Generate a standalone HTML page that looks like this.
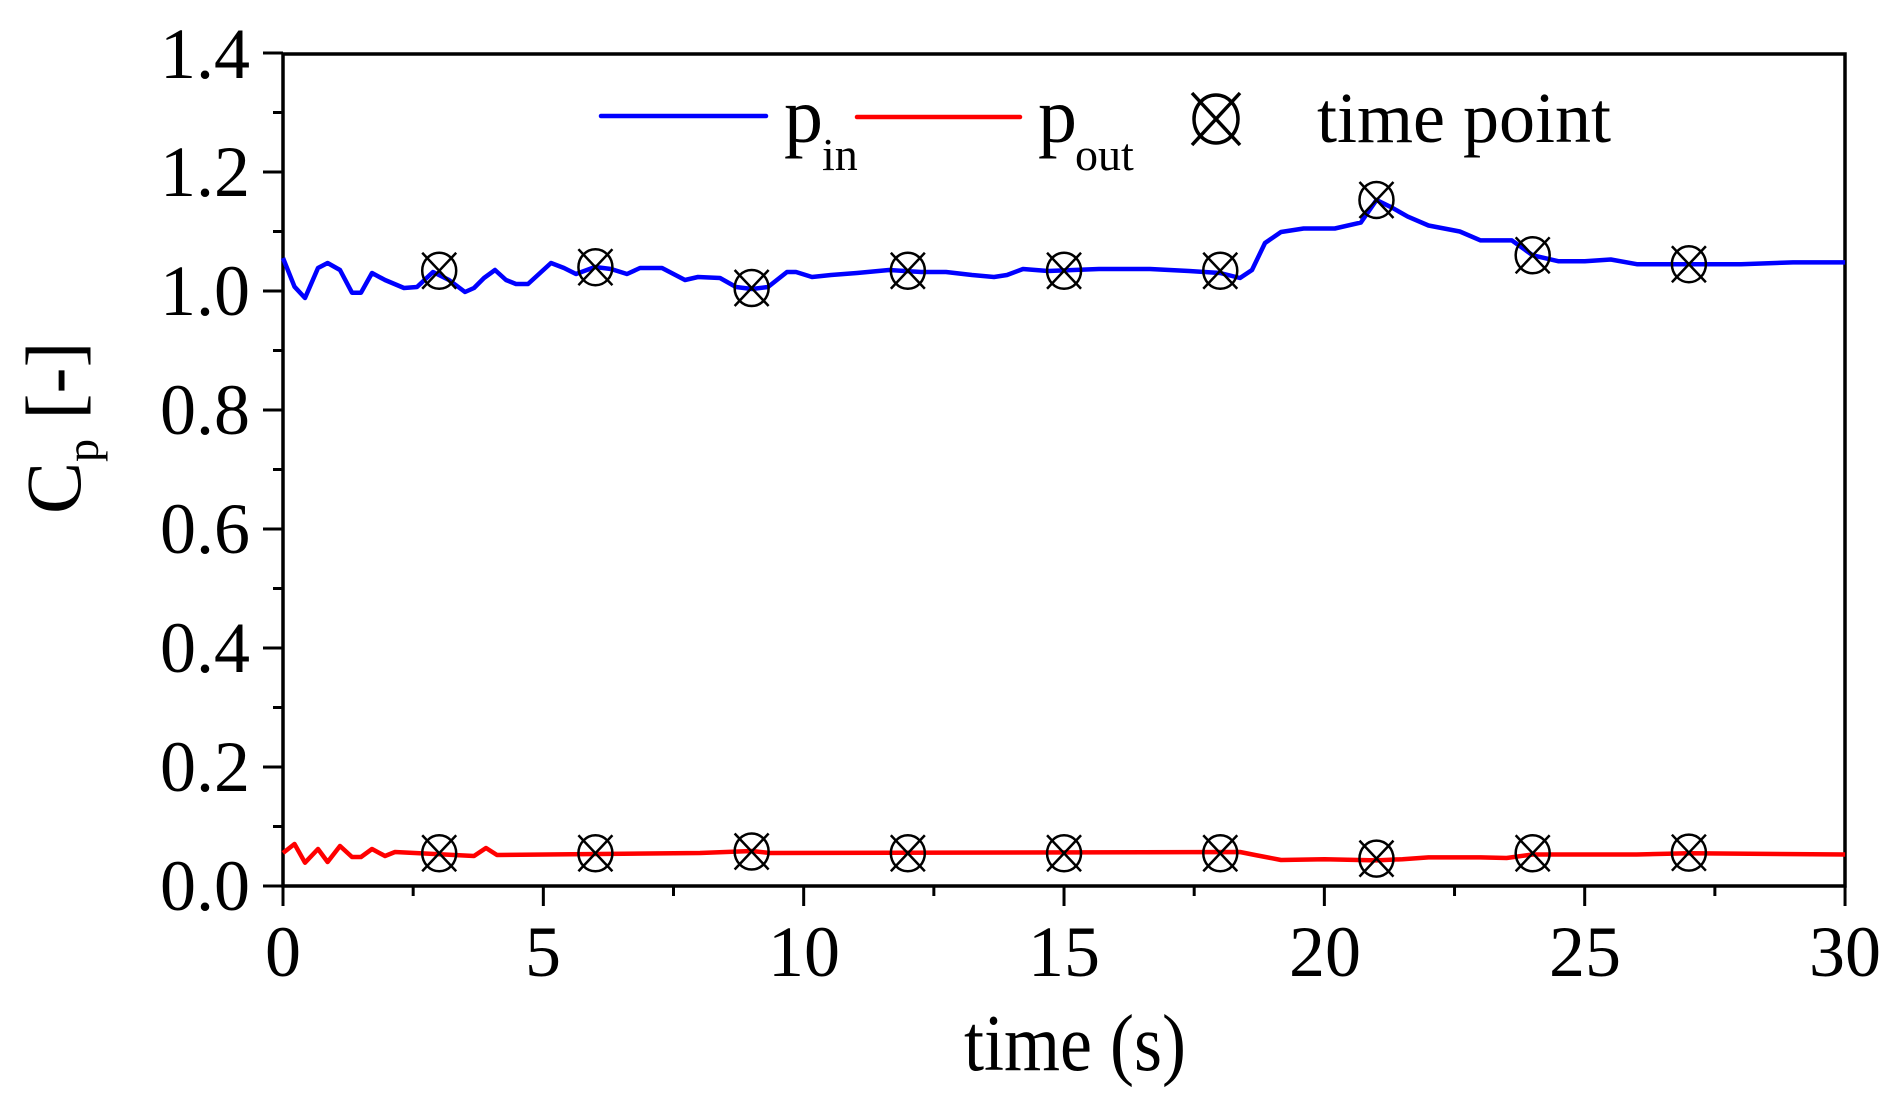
<!DOCTYPE html>
<html><head><meta charset="utf-8"><style>
html,body{margin:0;padding:0;background:#fff;}
svg{display:block;}
text{font-family:"Liberation Serif","Times New Roman",serif;fill:#000;}
</style></head><body>
<svg id="s" width="1897" height="1097" viewBox="0 0 1897 1097" xmlns="http://www.w3.org/2000/svg" font-family="Liberation Serif, serif">
<rect width="1897" height="1097" fill="#fff"/>
<g id="ticks" stroke="#000" stroke-width="3"></g>
<rect x="283" y="54" width="1562" height="832" fill="none" stroke="#000" stroke-width="3.5"/>
<g font-size="72" text-anchor="end">
<text x="250" y="910">0.0</text>
<text x="250" y="791">0.2</text>
<text x="250" y="672">0.4</text>
<text x="250" y="553">0.6</text>
<text x="250" y="434">0.8</text>
<text x="250" y="315">1.0</text>
<text x="250" y="196">1.2</text>
<text x="250" y="78">1.4</text>
</g>
<g font-size="72" text-anchor="middle">
<text x="283" y="976">0</text>
<text x="543" y="976">5</text>
<text x="804" y="976">10</text>
<text x="1064" y="976">15</text>
<text x="1325" y="976">20</text>
<text x="1585" y="976">25</text>
<text x="1845" y="976">30</text>
</g>
<text x="964" y="1070" font-size="80" textLength="222" lengthAdjust="spacingAndGlyphs">time (s)</text>
<text transform="translate(80,514) rotate(-90)" font-size="78">C<tspan font-size="46" dy="18">p</tspan><tspan dy="-18"> [-]</tspan></text>
<path id="blue" fill="none" stroke="#0000ff" stroke-width="4.5" stroke-linejoin="round"/>
<path id="red" fill="none" stroke="#ff0000" stroke-width="4.5" stroke-linejoin="round"/>
<g id="marks" fill="none" stroke="#000" stroke-width="2.5"></g>
<!-- legend -->
<line x1="601" y1="116" x2="766" y2="116" stroke="#0000ff" stroke-width="4.5" stroke-linecap="round"/>
<text x="784" y="142" font-size="78">p</text><text x="822" y="170" font-size="46">in</text>
<line x1="857" y1="117" x2="1020" y2="117" stroke="#ff0000" stroke-width="4.5" stroke-linecap="round"/>
<text x="1038" y="142" font-size="78">p</text><text x="1075" y="170" font-size="46">out</text>
<g fill="none" stroke="#000" stroke-width="3.5">
<ellipse cx="1216" cy="119" rx="22" ry="24"/>
<line x1="1192" y1="93" x2="1240" y2="145"/><line x1="1240" y1="93" x2="1192" y2="145"/>
</g>
<text x="1317" y="142" font-size="72">time point</text>
</svg>
<script>
var X=function(t){return 283+t*52.07;},Y=function(v){return 886-v*595;};
var t=document.getElementById('ticks'),h='';
for(var i=0;i<=14;i++){var y=886-i*59.5;h+='<line x1="'+(i%2?273:263)+'" y1="'+y+'" x2="283" y2="'+y+'"/>';}
for(var i=0;i<=12;i++){var x=283+i*130.17;h+='<line x1="'+x+'" y1="886" x2="'+x+'" y2="'+(i%2?896:906)+'"/>';}
t.innerHTML=h;
var bp=[[283,258],[294.5,286.7],[305,298],[318,268],[327.6,263],[340,270],[352,292.7],[361,292.7],[372,273],[385,280],[404,288],[417,287],[433,272],[449,280],[465,292],[474,288],[484,278],[495,270],[506,280],[516,284],[528,284],[551,263],[564,268],[576,274],[595,267],[611,269],[627,274],[640,268],[662,268],[685,280],[698,277],[720,278],[736,287],[752,289],[768,287],[787,272],[796,272],[812,277],[831,275],[857,273],[889,270],[921,272],[946,272],[972,275],[994,277],[1007,275],[1023,269],[1048,271],[1099,269],[1150,269],[1189,271],[1220,273],[1240,278],[1252,270],[1265,243],[1281,232]];
var bv=[[19.6,1.105],[20.2,1.105],[20.7,1.115],[21,1.153],[21.3,1.14],[21.6,1.125],[22,1.11],[22.6,1.1],[23,1.085],[23.6,1.085],[24,1.06],[24.5,1.05],[25,1.05],[25.5,1.053],[26,1.045],[27,1.045],[28,1.045],[29,1.048],[30,1.048]];
bv.forEach(function(p){bp.push([X(p[0]),Y(p[1])]);});
var rp=[[283,853],[294.5,844],[305,862.7],[318,849],[327.6,862],[340,846],[352,857],[361,857],[372,849],[385,856],[395,852],[474,856],[486,848],[497,855],[700,853],[752,851],[770,853],[1240,852],[1255,855],[1281,860]];
[[20,0.045],[21,0.043],[21.5,0.045],[22,0.048],[23,0.048],[23.5,0.047],[24,0.053],[26,0.053],[27,0.055],[30,0.053]].forEach(function(p){rp.push([X(p[0]),Y(p[1])]);});
function d(a){return 'M'+a.map(function(p){return p[0].toFixed(1)+','+p[1].toFixed(1);}).join('L');}
document.getElementById('blue').setAttribute('d',d(bp));
document.getElementById('red').setAttribute('d',d(rp));
var mb=[1.034,1.040,1.005,1.034,1.034,1.034,1.153,1.06,1.045],mr=[0.055,0.055,0.058,0.055,0.055,0.055,0.046,0.055,0.056],m='';
function mk(x,y){return '<ellipse cx="'+x+'" cy="'+y+'" rx="17" ry="18"/><line x1="'+(x-17)+'" y1="'+(y-18)+'" x2="'+(x+17)+'" y2="'+(y+18)+'"/><line x1="'+(x+17)+'" y1="'+(y-18)+'" x2="'+(x-17)+'" y2="'+(y+18)+'"/>';}
for(var k=0;k<9;k++){var x=X(3*(k+1));m+=mk(x,Y(mb[k]))+mk(x,Y(mr[k]));}
document.getElementById('marks').innerHTML=m;
</script>
</body></html>
